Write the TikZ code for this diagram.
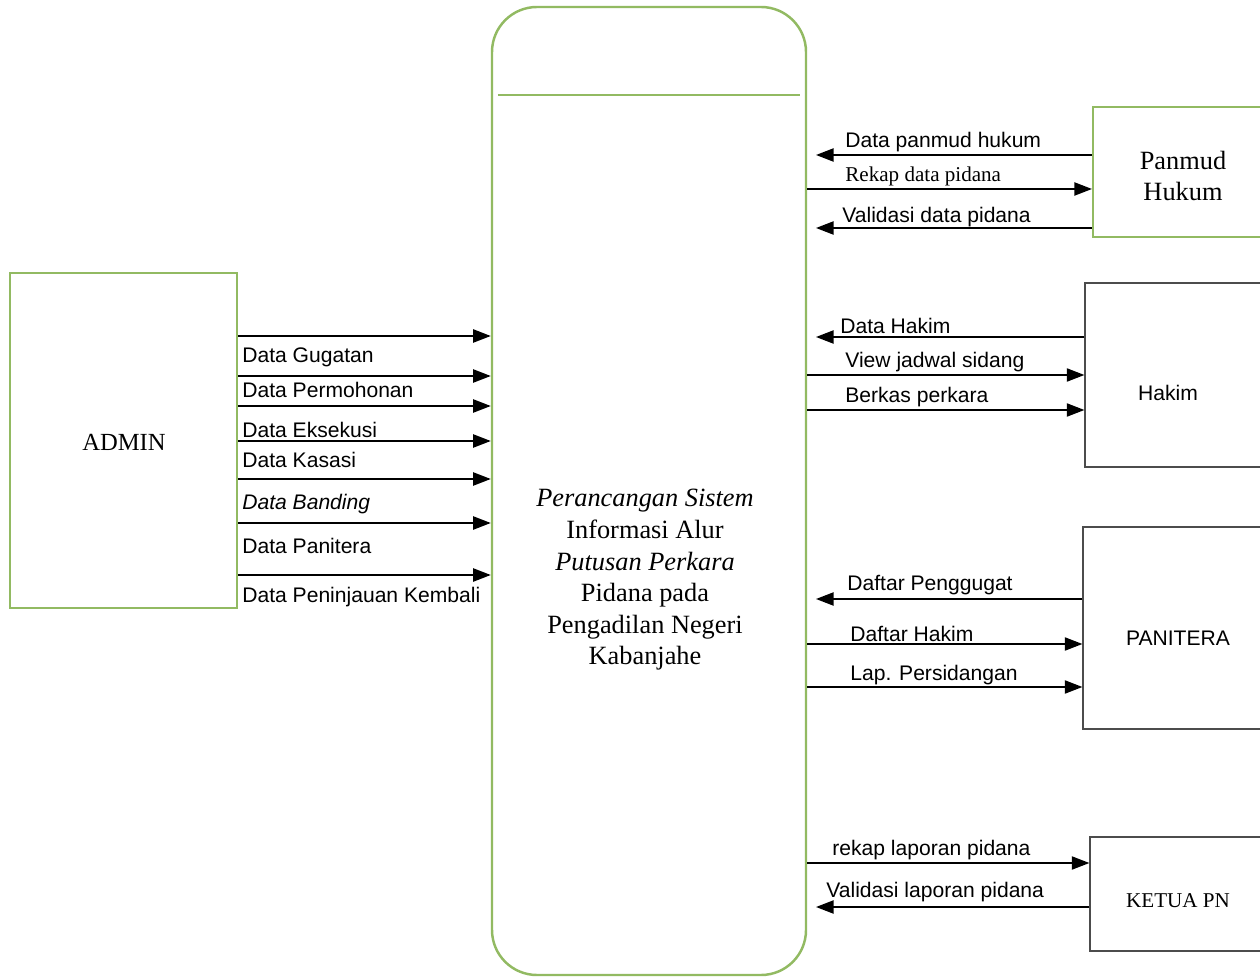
\documentclass[tikz,border=0pt]{standalone}
\usepackage{fontspec}
\setmainfont{Liberation Serif}
\setsansfont{Liberation Sans}
\usetikzlibrary{positioning,fit,arrows.meta}
\definecolor{boxgreen}{RGB}{146,186,98}

\begin{document}
\begin{tikzpicture}
            [x=0.02cm, y=-0.02cm, font=\sffamily\fontsize{12}{14}\selectfont,
            flow/.style={draw=black, line width=0.9pt, -{Triangle[length=10pt,width=7.5pt]}},
            greenbox/.style={draw=boxgreen, line width=1.2pt, inner sep=0pt},
            greybox/.style={draw=black!70, line width=0.7pt, inner sep=0pt},
            lbl/.style={anchor=base west, inner sep=0pt},
            bigtext/.style={font=\rmfamily\fontsize{15}{18}\selectfont, align=center}]
            \useasboundingbox (0,0) rectangle (1260,979);
            \clip (0,0) rectangle (1260,979);
            % boxes
            \node [greenbox, fit={(10,273) (237,608)}] (admin) {};
            \node [greenbox, rounded corners=0.9cm, line width=1.4pt, fit={(492,7) (806,975)}] (proc) {};
            \node [greenbox, fit={(1093,107) (1275,237)}] (panmud) {};
            \node [greybox, fit={(1085,283) (1275,467)}] (hakim) {};
            \node [greybox, fit={(1083,527) (1275,729)}] (panitera) {};
            \node [greybox, fit={(1090,837) (1275,951)}] (ketua) {};
            \coordinate (div) at (649,95);
            \draw [boxgreen, line width=1pt] ([xshift=4pt]proc.west |- div) -- ([xshift=-4pt]proc.east |- div);
            % box texts
            \node [anchor=base, font=\rmfamily\fontsize{14}{16}\selectfont] (admintxt) at (124,450) {ADMIN};
            \node [bigtext] (proctxt) at (645,580) {\itshape Perancangan Sistem\\ Informasi Alur\\ \itshape Putusan Perkara\\ Pidana pada\\ Pengadilan Negeri\\ Kabanjahe};
            \node [bigtext] (panmudtxt) at (1183,176) {Panmud\\ Hukum};
            \node [anchor=base] (hakimtxt) at (1168,400) {Hakim};
            \node [anchor=base] (paniteratxt) at (1178,645) {PANITERA};
            \node [anchor=base, font=\rmfamily\fontsize{12}{14}\selectfont] (ketuatxt) at (1178,907) {KETUA PN};
            % admin -> process
            \foreach \y/\b/\txt [count=\i] in {336/363/Data Gugatan, 376/398/Data Permohonan,
                406/438/Data Eksekusi, 441/467/Data Kasasi, 479/509/{\itshape Data Banding},
                523/553/Data Panitera, 575/602/Data Peninjauan Kembali}{
                \coordinate (in\i) at (240,\y);
                \draw [flow] (admin.east |- in\i) -- (proc.west |- in\i);
                \node [lbl] (inlbl\i) at (242,\b) {\txt};
            }
            % process -> entities
            \foreach \y/\b/\lx/\ent/\txt [count=\i] in {189/182/845/panmud/{\rmfamily Rekap data pidana},
                375/368/845/hakim/View jadwal sidang, 410/402/845/hakim/Berkas perkara,
                644/641/850/panitera/Daftar Hakim, 687/680/850/panitera/Lap. Persidangan,
                863/855/832/ketua/rekap laporan pidana}{
                \coordinate (out\i) at (\lx,\y);
                \draw [flow] (proc.east |- out\i) -- (\ent.west |- out\i);
                \node [lbl] (outlbl\i) at (\lx,\b) {\txt};
            }
            % entities -> process
            \foreach \y/\b/\lx/\ent/\txt [count=\i] in {155/148/845/panmud/Data panmud hukum,
                228/223/842/panmud/Validasi data pidana, 337/334/840/hakim/Data Hakim,
                599/590/847/panitera/Daftar Penggugat, 907/897/826/ketua/Validasi laporan pidana}{
                \coordinate (back\i) at (\lx,\y);
                \draw [flow, shorten >=5pt] (\ent.west |- back\i) -- (proc.east |- back\i);
                \node [lbl] (backlbl\i) at (\lx,\b) {\txt};
            }
\end{tikzpicture}
\end{document}
